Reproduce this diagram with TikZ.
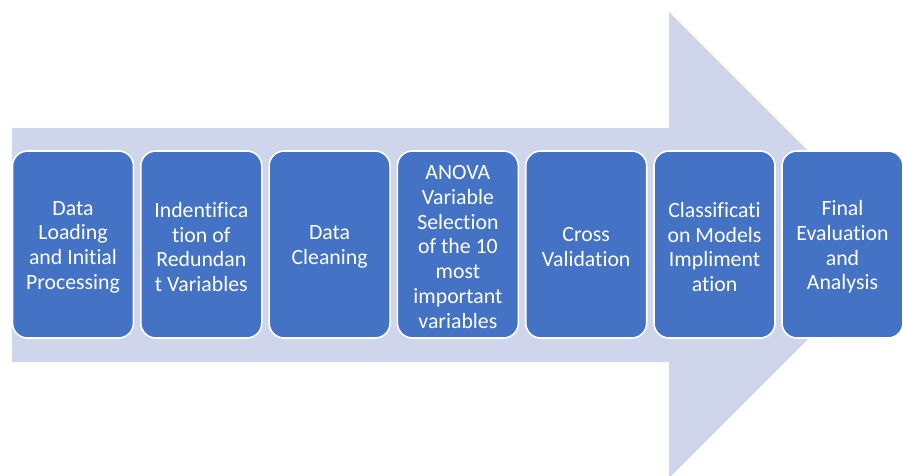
\documentclass[tikz,border=0pt]{standalone}
\usepackage{fontspec}
\setmainfont[Ligatures=CommonOff]{Carlito}
\definecolor{arrowfill}{HTML}{CFD5EA}
\definecolor{stagefill}{HTML}{4472C4}
\begin{document}
\begin{tikzpicture}[x=1pt,y=-1pt,
  stage/.style={draw=white, line width=1.6pt, fill=stagefill, rounded corners=15pt,
    minimum width=121pt, minimum height=187pt, inner sep=0pt,
    label={[text=white, align=center, yshift=-2.5pt,
      font=\fontsize{21.8}{24.7}\selectfont]center:#1}}]
\useasboundingbox (0,0) rectangle (903,476);
% background process arrow
\begin{scope}
\clip (0,0) rectangle (903,476);
\fill[arrowfill] (12,128) -- (669,128) -- (669,12) -- (902,245) -- (669,478)
  -- (669,362) -- (12,362) -- cycle;
\end{scope}
% process stages
\node[stage={Data\\Loading\\and Initial\\Processing}] (s1) at (73,244.5) {};
\node[stage={Indentifica\\tion of\\Redundan\\t Variables}] (s2) at (201.3,244.5) {};
\node[stage={Data\\Cleaning}] (s3) at (329.6,244.5) {};
\node[stage={ANOVA\\Variable\\Selection\\of the 10\\most\\important\\variables}] (s4) at (457.9,244.5) {};
\node[stage={Cross\\Validation}] (s5) at (586.2,244.5) {};
\node[stage={Classificati\\on Models\\Impliment\\ation}] (s6) at (714.5,244.5) {};
\node[stage={Final\\Evaluation\\and\\Analysis}] (s7) at (842.5,244.5) {};
\end{tikzpicture}
\end{document}
